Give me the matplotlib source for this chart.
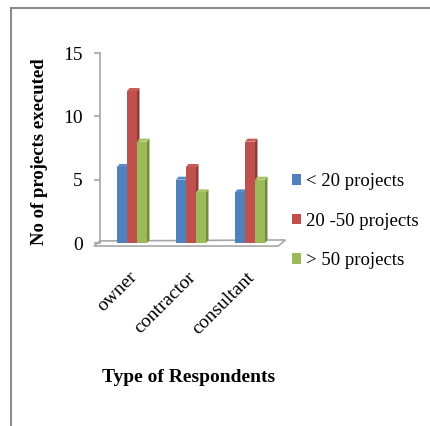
import matplotlib.pyplot as plt
import numpy as np
from matplotlib.patches import Polygon
from matplotlib.lines import Line2D

plt.rcParams['font.family'] = ['Liberation Serif', 'DejaVu Serif']

# Survey data
categories = ['owner', 'contractor', 'consultant']
series_names = ['< 20 projects', '20 -50 projects', '> 50 projects']
under_20 = [6, 5, 4]
between_20_50 = [12, 6, 8]
over_50 = [8, 4, 5]
series = [under_20, between_20_50, over_50]

front_colors = ['#4F81BD', '#C0504D', '#9BBB59']
side_colors = ['#3A6596', '#8E3A37', '#718B3F']
top_colors = ['#5A8CC8', '#C95C59', '#A5C466']

W, H = 430, 426
fig = plt.figure(figsize=(W / 100, H / 100), dpi=100)

# plot area in pixels: x 100..280, y 53..243
x0_px, x1_px, ytop_px, ybot_px = 100, 280, 53, 243
ax = fig.add_axes([x0_px / W, 1 - ybot_px / H, (x1_px - x0_px) / W, (ybot_px - ytop_px) / H])
px_per_unit = 59.0
ax.set_xlim(-(132 - x0_px) / px_per_unit, (x1_px - 132) / px_per_unit)
ax.set_ylim(0, 15)

bar_w = 10 / px_per_unit
dx = 2.5 / px_per_unit      # depth offset in x units
dy = 3.0 * 15 / (ybot_px - ytop_px)  # depth offset in value units

# floor of the 3D box
xl = ax.get_xlim()[0]
floor = Polygon([(xl - 0.1, -0.24), (xl, 0.16), (2.6, 0.24), (2.48, -0.24)],
                closed=True, facecolor='white', edgecolor='#A6A6A6', lw=1.2,
                clip_on=False, zorder=1)
ax.add_patch(floor)

x = np.arange(len(categories))
for i, vals in enumerate(series):
    xs = x + (i - 1) * bar_w
    for xc, h in zip(xs, vals):
        left, right = xc - bar_w / 2, xc + bar_w / 2
        z = 2 + i
        ax.add_patch(Polygon([(right, 0), (right + dx, dy), (right + dx, h + dy), (right, h)],
                             closed=True, facecolor=side_colors[i], edgecolor='none',
                             zorder=z, clip_on=False))
        ax.add_patch(Polygon([(left, h), (left + dx, h + dy), (right + dx, h + dy), (right, h)],
                             closed=True, facecolor=top_colors[i], edgecolor='none',
                             zorder=z, clip_on=False))
    ax.bar(xs, vals, width=bar_w, color=front_colors[i], zorder=2 + i,
           label=series_names[i])

for s in ['top', 'right', 'bottom']:
    ax.spines[s].set_visible(False)
ax.spines['left'].set_color('#A6A6A6')
ax.spines['left'].set_linewidth(1.2)
ax.set_yticks([0, 5, 10, 15])
ax.tick_params(axis='y', direction='out', length=4.5, width=1.2, color='#A6A6A6',
               labelsize=14, pad=8)
ax.set_xticks([])

for xc, name in zip(x, categories):
    ax.text(xc + 0.04, -2.5, name, rotation=45, rotation_mode='anchor',
            ha='right', va='center', fontsize=14, clip_on=False)

fig.text(40 / W, 1 - 152 / H, 'No of projects executed', rotation=90,
         ha='center', va='center', fontsize=13.5, fontweight='bold')
fig.text(189 / W, 1 - 378 / H, 'Type of Respondents', ha='center', va='center',
         fontsize=14, fontweight='bold')

ax.legend(loc='center left', bbox_to_anchor=(292 / W, 1 - 221 / H),
          bbox_transform=fig.transFigure, frameon=False, fontsize=13.5,
          handlelength=0.5, handleheight=0.5, handletextpad=0.25,
          labelspacing=1.2, borderpad=0, borderaxespad=0)

# outer frame
fig.add_artist(Line2D([11 / W, 11 / W], [0, 1 - 8 / H], transform=fig.transFigure,
                      color='#8C8C8C', lw=1.5))
fig.add_artist(Line2D([11 / W, 1], [1 - 8 / H, 1 - 8 / H], transform=fig.transFigure,
                      color='#8C8C8C', lw=1.5))

fig.savefig('out.png', dpi=100)
